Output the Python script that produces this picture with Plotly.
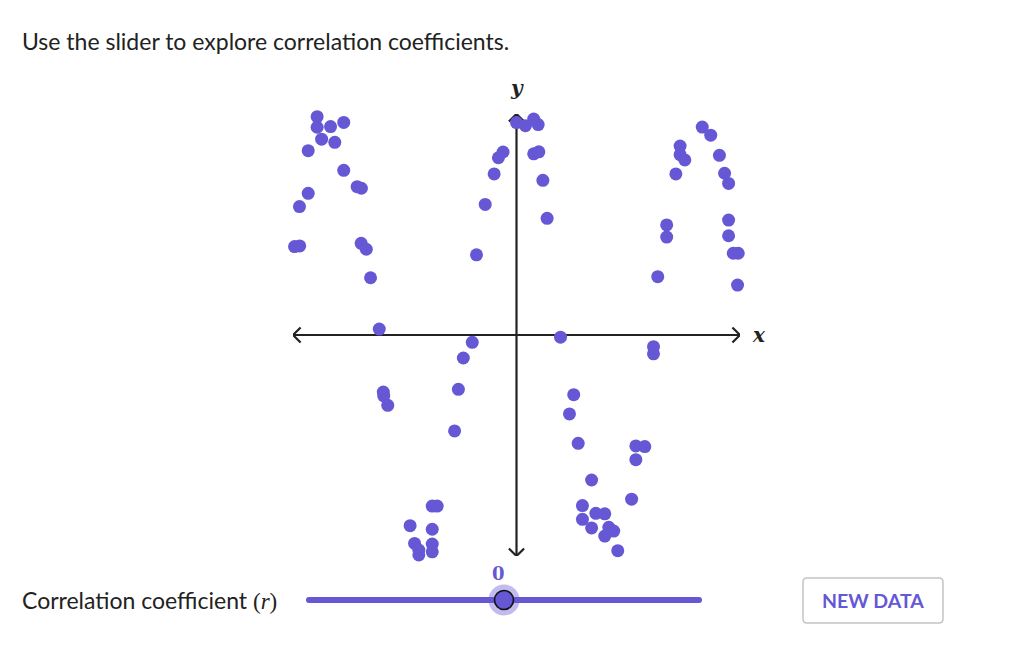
import plotly.graph_objects as go

# ---------------- data ----------------
xs = [-8.92, -8.92, -8.32, -7.73, -8.72, -8.13, -9.32, -7.73, -7.13, -6.94, -9.32, -9.71, -9.93, -9.70, -6.95, -6.72, -6.53,
      0.00, 0.40, 0.77, 0.97, -0.60, -0.81, 0.77, 1.00, -1.00, 1.18, -1.40, 1.37, -1.79,
      8.31, 8.69, 7.32, 7.32, 7.53, 9.08, 7.13, 9.31, 9.49, 6.72, 6.72, 9.49, 9.49, 9.70, 9.92, 6.32, 9.89,
      -6.14, -1.98, -2.38, -5.96, -5.94, -5.76, -2.60, -2.77, -3.77, -3.55, -4.76, -3.77, -4.56, -4.37, -4.37, -3.77, -3.77,
      1.97, 6.13, 6.13, 2.56, 2.37, 2.76, 5.34, 5.74, 5.34, 3.36, 5.15, 2.95, 3.55, 3.95, 2.95, 3.36, 4.13, 4.35, 3.95, 4.53]
ys = [9.88, 9.40, 9.43, 9.62, 8.86, 8.72, 8.34, 7.45, 6.71, 6.64, 6.41, 5.81, 4.00, 4.03, 4.15, 3.88, 2.59,
      9.61, 9.47, 9.77, 9.52, 8.28, 8.02, 8.20, 8.29, 7.29, 7.00, 5.91, 5.28, 3.63,
      9.41, 9.04, 8.55, 8.16, 7.92, 8.13, 7.29, 7.32, 6.86, 4.98, 4.43, 5.20, 4.49, 3.70, 3.70, 2.64, 2.26,
      0.27, -0.33, -1.04, -2.58, -2.76, -3.18, -2.46, -4.34, -7.74, -7.74, -8.63, -8.79, -9.43, -9.73, -9.95, -9.46, -9.81,
      -0.10, -0.53, -0.85, -2.70, -3.57, -4.90, -5.02, -5.05, -5.64, -6.56, -7.43, -7.72, -8.07, -8.09, -8.34, -8.73, -8.70, -8.87, -9.10, -9.76]

axis_min, axis_max = -10, 10
r_min, r_max = -1, 1
r_value = 0

title_text = "Use the slider to explore correlation coefficients."
slider_label = "Correlation coefficient <span style='font-family:Liberation Serif'>(<i>r</i>)</span>"
button_text = "NEW DATA"

PURPLE = "#6657d5"
AXIS = "#222222"
W, H = 1032, 645
HEAD = 0.34  # arrowhead leg size in axis units

fig = go.Figure()

# axis lines with chevron heads (drawn first, beneath points)
ax_x = [axis_min, axis_max, None,
        axis_max - HEAD, axis_max, axis_max - HEAD, None,
        axis_min + HEAD, axis_min, axis_min + HEAD, None,
        0, 0, None,
        -HEAD, 0, HEAD, None,
        -HEAD, 0, HEAD]
ax_y = [0, 0, None,
        HEAD, 0, -HEAD, None,
        HEAD, 0, -HEAD, None,
        axis_min, axis_max, None,
        axis_max - HEAD, axis_max, axis_max - HEAD, None,
        axis_min + HEAD, axis_min, axis_min + HEAD]
fig.add_trace(go.Scatter(
    x=ax_x, y=ax_y, mode="lines", line=dict(color=AXIS, width=2.2),
    xaxis="x", yaxis="y", hoverinfo="skip", showlegend=False, cliponaxis=False,
))

# scatter points
fig.add_trace(go.Scatter(
    x=xs, y=ys, mode="markers",
    marker=dict(size=13, color=PURPLE, line=dict(width=0)),
    xaxis="x", yaxis="y", hoverinfo="skip", showlegend=False, cliponaxis=False,
))

# slider track and handle
fig.add_trace(go.Scatter(
    x=[r_min, r_max], y=[0, 0], mode="lines",
    line=dict(color=PURPLE, width=6),
    xaxis="x2", yaxis="y2", hoverinfo="skip", showlegend=False, cliponaxis=False,
))
fig.add_trace(go.Scatter(
    x=[r_min, r_max], y=[0, 0], mode="markers",
    marker=dict(size=6, color=PURPLE, line=dict(width=0)),
    xaxis="x2", yaxis="y2", hoverinfo="skip", showlegend=False, cliponaxis=False,
))
fig.add_trace(go.Scatter(
    x=[r_value], y=[0], mode="markers",
    marker=dict(size=31, color="rgba(102,87,213,0.40)", line=dict(width=0)),
    xaxis="x2", yaxis="y2", hoverinfo="skip", showlegend=False, cliponaxis=False,
))
fig.add_trace(go.Scatter(
    x=[r_value], y=[0], mode="markers",
    marker=dict(size=19, color=PURPLE, line=dict(width=1.6, color="#111111")),
    xaxis="x2", yaxis="y2", hoverinfo="skip", showlegend=False, cliponaxis=False,
))

# button
bx0, bx1, by0, by1 = 803 / W, 943 / W, 1 - 623 / H, 1 - 578 / H
rx, ry = 4 / W, 4 / H
path = (f"M{bx0+rx},{by0} L{bx1-rx},{by0} Q{bx1},{by0} {bx1},{by0+ry} "
        f"L{bx1},{by1-ry} Q{bx1},{by1} {bx1-rx},{by1} L{bx0+rx},{by1} "
        f"Q{bx0},{by1} {bx0},{by1-ry} L{bx0},{by0+ry} Q{bx0},{by0} {bx0+rx},{by0} Z")
shapes = [dict(type="path", xref="paper", yref="paper", path=path,
               line=dict(color="#c4c4c4", width=1.5), fillcolor="white", layer="below")]

annotations = []
# axis labels
annotations.append(dict(x=axis_max, y=0, xref="x", yref="y", xshift=19, showarrow=False,
                        text="<b><i>x</i></b>", font=dict(family="DejaVu Serif", size=20, color=AXIS)))
annotations.append(dict(x=0, y=axis_max, xref="x", yref="y", yshift=26, showarrow=False,
                        text="<b><i>y</i></b>", font=dict(family="DejaVu Serif", size=20, color=AXIS)))
# title
annotations.append(dict(x=20 / W, y=1 - 41 / H, xref="paper", yref="paper", xanchor="left", yanchor="middle",
                        showarrow=False, text=title_text, font=dict(family="Lato", size=23, color="#222222")))
# slider label
annotations.append(dict(x=20 / W, y=1 - 600 / H, xref="paper", yref="paper", xanchor="left", yanchor="middle",
                        showarrow=False, text=slider_label, font=dict(family="Lato", size=23, color="#222222")))
# slider value
annotations.append(dict(x=r_value, y=0, xref="x2", yref="y2", xshift=-6, yshift=27, showarrow=False,
                        text=f"<b>{r_value}</b>", font=dict(family="DejaVu Serif", size=18, color=PURPLE)))
# button text
annotations.append(dict(x=(bx0 + bx1) / 2, y=(by0 + by1) / 2, xref="paper", yref="paper",
                        xanchor="center", yanchor="middle", showarrow=False,
                        text=f"<b>{button_text}</b>", font=dict(family="Lato", size=19.5, color=PURPLE)))

fig.update_layout(
    width=W, height=H, margin=dict(l=0, r=0, t=0, b=0),
    paper_bgcolor="white", plot_bgcolor="rgba(0,0,0,0)",
    showlegend=False,
    xaxis=dict(domain=[293 / W, 740 / W], range=[axis_min, axis_max], visible=False, fixedrange=True),
    yaxis=dict(domain=[1 - 556 / H, 1 - 114 / H], range=[axis_min, axis_max], visible=False, fixedrange=True),
    xaxis2=dict(domain=[309 / W, 699 / W], range=[r_min, r_max], visible=False, anchor="y2", fixedrange=True),
    yaxis2=dict(domain=[1 - 640 / H, 1 - 560 / H], range=[-1, 1], visible=False, anchor="x2", fixedrange=True),
    shapes=shapes,
    annotations=annotations,
)

fig.write_html("out.html", config={"displayModeBar": False},
               post_script="document.body.style.margin='0';")
